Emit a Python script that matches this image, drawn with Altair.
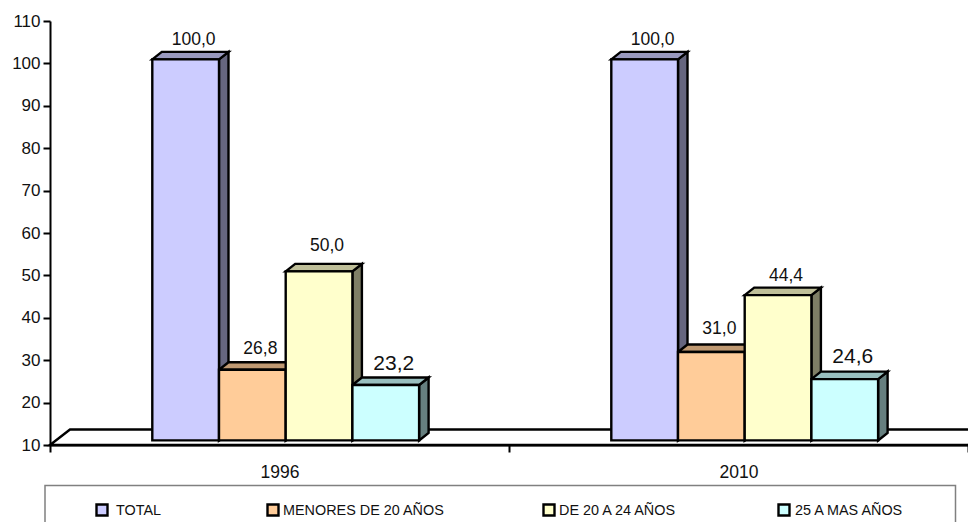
import altair as alt
import pandas as pd

# ---- chart values -------------------------------------------------------
years = ["1996", "2010"]
series = ["TOTAL", "MENORES DE 20 AÑOS", "DE 20 A 24 AÑOS", "25 A MAS AÑOS"]
values_1996 = [100.0, 26.8, 50.0, 23.2]
values_2010 = [100.0, 31.0, 44.4, 24.6]
colors = ["#CCCCFF", "#FFCC99", "#FFFFCC", "#CCFFFF"]
side_colors = ["#66667F", "#7F664C", "#7F7F66", "#667F7F"]
top_colors = ["#9999BF", "#BF9972", "#BFBF99", "#99BFBF"]

# ---- layout (pixels) ----------------------------------------------------
W, H = 918, 424
PXX = 2 / W            # data units of x per pixel
PXY = 100 / H          # data units of y per pixel
BAR_W, DEPTH_X, DEPTH_Y = 66.7, 9.5, 7.5
GROUP_LEFT, GROUP_STEP = 102.3, 459
FRONT_LIFT = 4.0       # bars stand a little behind the axis plane
BASE_LIFT = 4.6
FONT = "Liberation Sans"
LINE = 2.4
# gap in px between a label baseline and the bar's back edge
label_gap = {(0, 0): 7, (0, 1): 8, (0, 2): 13, (0, 3): 8,
             (1, 0): 7, (1, 1): 10, (1, 2): 7, (1, 3): 9}
wide_labels = {(0, 3), (1, 3)}

front, side, top, labels = [], [], [], []
for g, vals in enumerate([values_1996, values_2010]):
    for s, v in enumerate(vals):
        xl = (GROUP_LEFT + GROUP_STEP * g + s * BAR_W) * PXX
        xr = xl + BAR_W * PXX
        dx, dy = DEPTH_X * PXX, DEPTH_Y * PXY
        yt = v + FRONT_LIFT * PXY
        yb = 10 + BASE_LIFT * PXY
        bid = f"{g}-{s}"
        front.append(dict(series=series[s], x=xl, x2=xr, y=yt, y2=yb))
        side += [dict(bar=bid, fill=side_colors[s], x=xr, y=yt, y2=yb),
                 dict(bar=bid, fill=side_colors[s], x=xr + dx, y=yt + dy, y2=yb + dy)]
        top += [dict(bar=bid, fill=top_colors[s], x=xl, y=yt, y2=yt),
                dict(bar=bid, fill=top_colors[s], x=xl + dx, y=yt + dy, y2=yt),
                dict(bar=bid, fill=top_colors[s], x=xr, y=yt + dy, y2=yt),
                dict(bar=bid, fill=top_colors[s], x=xr + dx, y=yt + dy, y2=yt + dy)]
        labels.append(dict(x=(xl + xr) / 2 + 8 * PXX,
                           y=yt + dy + label_gap[(g, s)] * PXY,
                           text=f"{v:.1f}".replace(".", ","),
                           wide=(g, s) in wide_labels))

fb = 15.5 * PXY
fd = 20 * PXX
floor = pd.DataFrame({"x": [0, fd, 2, 2 + fd],
                      "y": [10, 10 + fb, 10 + fb, 10 + fb],
                      "y2": [10, 10, 10, 10 + fb]})

xs = alt.Scale(domain=[0, 2], nice=False, zero=False)
ys = alt.Scale(domain=[10, 110], nice=False, zero=False)
X = alt.X("x:Q", scale=xs, axis=None)
Y = alt.Y("y:Q", scale=ys, stack=None, title=None,
          axis=alt.Axis(values=list(range(10, 111, 10)), grid=False, tickSize=7,
                        tickColor="black", tickWidth=2, domainColor="black",
                        domainWidth=2, labelFont=FONT, labelFontSize=17,
                        labelColor="#111111", labelPadding=3))
fill_scale = alt.Scale(domain=series, range=colors)

axis_layer = alt.Chart(pd.DataFrame({"year": years})).mark_point(opacity=0).encode(
    x=alt.X("year:N", title=None,
            scale=alt.Scale(paddingInner=0, paddingOuter=0),
            axis=alt.Axis(orient="bottom", tickBand="extent", labelAngle=0, tickSize=7,
                          tickColor="black", tickWidth=2, domainColor="black",
                          domainWidth=2, labelFont=FONT, labelFontSize=17.5,
                          labelColor="#111111", labelPadding=11, grid=False)),
    y=alt.value(0),
)
floor_layer = alt.Chart(floor).mark_area(fill="white", stroke="black", strokeWidth=LINE).encode(
    x=X, y=Y, y2="y2:Q")
side_layer = alt.Chart(pd.DataFrame(side)).mark_area(stroke="black", strokeWidth=LINE).encode(
    x=X, y=Y, y2="y2:Q", detail="bar:N",
    color=alt.Color("fill:N", scale=None))
top_layer = alt.Chart(pd.DataFrame(top)).mark_area(stroke="black", strokeWidth=LINE).encode(
    x=X, y=Y, y2="y2:Q", detail="bar:N",
    color=alt.Color("fill:N", scale=None))
front_layer = alt.Chart(pd.DataFrame(front)).mark_rect(stroke="black", strokeWidth=LINE).encode(
    x=X, x2="x2:Q", y=Y, y2="y2:Q",
    fill=alt.Fill("series:N", scale=fill_scale, legend=None))
lab = pd.DataFrame(labels)
label_narrow = alt.Chart(lab[~lab.wide]).mark_text(
    font=FONT, fontSize=17.5, baseline="alphabetic", color="#111111").encode(
    x=X, y=Y, text="text:N")
label_wide = alt.Chart(lab[lab.wide]).mark_text(
    font=FONT, fontSize=21, baseline="alphabetic", color="#111111").encode(
    x=X, y=Y, text="text:N")

# legend panel (box, swatches, labels), drawn at the bottom of the picture
legend_x = [52, 223, 499, 734]   # swatch centres, px from the plot's left edge
legend_gap = [14, 10, 10, 11]
leg = pd.DataFrame({"series": series, "px": legend_x, "tx": [a + b for a, b in zip(legend_x, legend_gap)]})
leg_y = H + 65
box = alt.Chart(pd.DataFrame({"a": [1]})).mark_rect(
    fill="white", stroke="#808080", strokeWidth=1.5).encode(
    x=alt.value(-5), x2=alt.value(905.5), y=alt.value(H + 40.5), y2=alt.value(H + 120))
swatch = alt.Chart(leg).mark_square(size=121, opacity=1, stroke="black", strokeWidth=2.4).encode(
    x=alt.X("px:Q", scale=alt.Scale(domain=[0, W], nice=False, zero=False), axis=None),
    y=alt.value(leg_y),
    fill=alt.Fill("series:N", scale=fill_scale, legend=None))
leg_text = alt.Chart(leg).mark_text(
    font=FONT, fontSize=14.4, align="left", baseline="middle", color="#111111", dy=1).encode(
    x=alt.X("tx:Q", scale=alt.Scale(domain=[0, W], nice=False, zero=False), axis=None),
    y=alt.value(leg_y), text="series:N")

chart = alt.layer(axis_layer, floor_layer, side_layer, top_layer, front_layer,
                  label_narrow, label_wide, box, swatch, leg_text
                  ).resolve_scale(x="independent").properties(
    width=W, height=H,
    padding={"left": 42, "top": 13, "right": 0, "bottom": 77},
    autosize=alt.AutoSizeParams(type="none"),
    background="white",
).configure_view(stroke=None)

chart.save("out.html", embed_options={"renderer": "svg", "actions": False})
